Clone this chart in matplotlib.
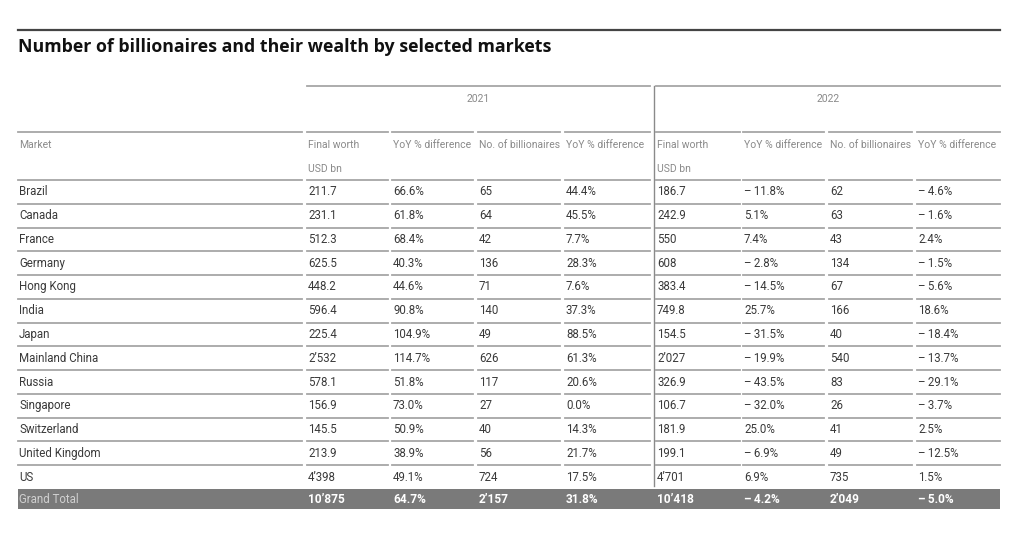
import numpy as np
import matplotlib.pyplot as plt
import matplotlib.font_manager as fm

# table data
markets = ['Brazil', 'Canada', 'France', 'Germany', 'Hong Kong', 'India', 'Japan',
           'Mainland China', 'Russia', 'Singapore', 'Switzerland', 'United Kingdom', 'US']
worth_2021 = [211.7, 231.1, 512.3, 625.5, 448.2, 596.4, 225.4, 2532, 578.1, 156.9, 145.5, 213.9, 4398]
worth_yoy_2021 = [66.6, 61.8, 68.4, 40.3, 44.6, 90.8, 104.9, 114.7, 51.8, 73.0, 50.9, 38.9, 49.1]
count_2021 = [65, 64, 42, 136, 71, 140, 49, 626, 117, 27, 40, 56, 724]
count_yoy_2021 = [44.4, 45.5, 7.7, 28.3, 7.6, 37.3, 88.5, 61.3, 20.6, 0.0, 14.3, 21.7, 17.5]
worth_2022 = [186.7, 242.9, 550, 608, 383.4, 749.8, 154.5, 2027, 326.9, 106.7, 181.9, 199.1, 4701]
worth_yoy_2022 = [-11.8, 5.1, 7.4, -2.8, -14.5, 25.7, -31.5, -19.9, -43.5, -32.0, 25.0, -6.9, 6.9]
count_2022 = [62, 63, 43, 134, 67, 166, 40, 540, 83, 26, 41, 49, 735]
count_yoy_2022 = [-4.6, -1.6, 2.4, -1.5, -5.6, 18.6, -18.4, -13.7, -29.1, -3.7, 2.5, -12.5, 1.5]
totals = [10875, 64.7, 2157, 31.8, 10418, -4.2, 2049, -5.0]

years = ['2021', '2022']
col_heads = ['Final worth', 'YoY % difference', 'No. of billionaires', 'YoY % difference'] * 2
title = 'Number of billionaires and their wealth by selected markets'

installed = set(f.name for f in fm.fontManager.ttflist)
body_font = ['Liberation Sans Narrow', 'DejaVu Sans'] if 'Liberation Sans Narrow' in installed else ['Roboto', 'DejaVu Sans']


def num(v):
    if isinstance(v, int):
        s = f'{v:,}'.replace(',', '\u2019')
    else:
        s = f'{v:.1f}'
    return s


def pct(v):
    if v < 0:
        return '\u2013\u2009' + f'{-v:.1f}%'
    return f'{v:.1f}%'


columns = [worth_2021, worth_yoy_2021, count_2021, count_yoy_2021,
           worth_2022, worth_yoy_2022, count_2022, count_yoy_2022]
is_pct = [False, True, False, True, False, True, False, True]

fig = plt.figure(figsize=(10.24, 5.38), dpi=100)
ax = fig.add_axes([0, 0, 1, 1])
ax.set_xlim(0, 1024)
ax.set_ylim(538, 0)
ax.axis('off')

left = [18, 307, 392, 478, 565, 656, 743, 829, 917]
right = [302, 388, 473, 560, 650, 740, 824, 912, 1000]
line_c = '#a6a6a6'
txt_c = '#3a3a3a'
head_c = '#8a8a8a'
head_fs = 7.5
body_fs = 8.3

# title
ax.plot([18, 1000], [30, 30], color='#444444', lw=1.6)
ax.text(18, 47, title, fontsize=12.8, fontweight='bold', family=['Open Sans', 'DejaVu Sans'],
        color='#111111', va='center', ha='left')

# year groups
for i, yr in enumerate(years):
    x0, x1 = left[1 + 4 * i], right[4 + 4 * i]
    ax.plot([x0, x1], [86, 86], color=line_c, lw=1.3)
    ax.text((x0 + x1) / 2, 99, yr, fontsize=head_fs, family=body_font, color=head_c,
            ha='center', va='center')

# header row
for j in range(9):
    ax.plot([left[j], right[j]], [132, 132], color=line_c, lw=1.3)
    ax.plot([left[j], right[j]], [180, 180], color=line_c, lw=1.3)
ax.text(left[0] + 1, 145, 'Market', fontsize=head_fs, family=body_font, color=head_c, va='center')
for j, h in enumerate(col_heads):
    ax.text(left[j + 1] + 1, 145, h, fontsize=head_fs, family=body_font, color=head_c, va='center')
    if j % 4 == 0:
        ax.text(left[j + 1] + 1, 169, 'USD bn', fontsize=head_fs, family=body_font, color=head_c, va='center')

# body rows
row_h = (489 - 180) / len(markets)
for i, m in enumerate(markets):
    top = 180 + i * row_h
    yc = top + row_h / 2
    ax.text(left[0] + 1, yc, m, fontsize=body_fs, family=body_font, color=txt_c, va='center')
    for j, col in enumerate(columns):
        s = pct(col[i]) if is_pct[j] else num(col[i])
        ax.text(left[j + 1] + 1, yc, s, fontsize=body_fs, family=body_font, color=txt_c, va='center')
    if i < len(markets) - 1:
        for j in range(9):
            ax.plot([left[j], right[j]], [top + row_h] * 2, color=line_c, lw=1.3)

# grand total bar
ax.add_patch(plt.Rectangle((18, 489), 982, 20, color='#7a7a7a', lw=0))
ax.text(left[0] + 1, 499.5, 'Grand Total', fontsize=body_fs, family=body_font, color='#d0d0d0', va='center')
for j, v in enumerate(totals):
    s = pct(v) if is_pct[j] else num(v)
    ax.text(left[j + 1] + 1, 499.5, s, fontsize=body_fs + 0.3, family=body_font, color='white',
            fontweight='bold', va='center')

# separator between years
ax.plot([654, 654], [86, 486], color='#8a8a8a', lw=1.0)

fig.savefig('out.png', dpi=100)
